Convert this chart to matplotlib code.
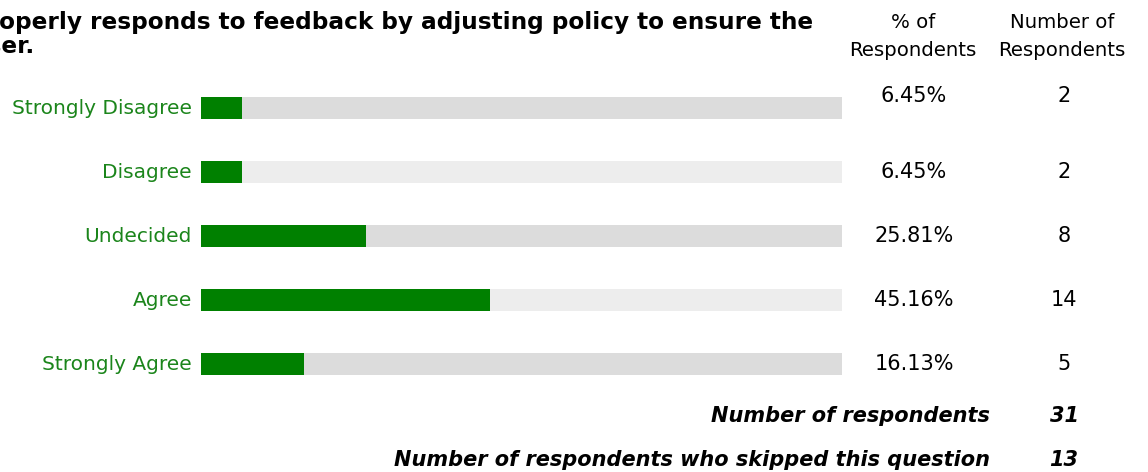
import matplotlib
matplotlib.use("Agg")
import matplotlib.pyplot as plt
import matplotlib.transforms as mtransforms

categories = ["Strongly Disagree", "Disagree", "Undecided", "Agree", "Strongly Agree"]
percents = [6.45, 6.45, 25.81, 45.16, 16.13]
counts = [2, 2, 8, 14, 5]
total_respondents = 31
skipped = 13
title_lines = ["properly responds to feedback by adjusting policy to ensure the", "user."]

W, H = 1148, 472
fig = plt.figure(figsize=(W / 100, H / 100), dpi=100)
plt.rcParams['font.family'] = ['DejaVu Sans']

# bar axes in pixel layout
left_px, right_px = 201, 842
top_px, bot_px = 76, 396
ax = fig.add_axes([left_px / W, 1 - bot_px / H, (right_px - left_px) / W, (bot_px - top_px) / H])
ax.set_xlim(0, 100)
ax.set_ylim(len(categories) - 0.5, -0.5)
ax.axis('off')

ypos = list(range(len(categories)))
track_colors = ['#dcdcdc' if i % 2 == 0 else '#ededed' for i in ypos]
bh = 22 / 64
ax.barh(ypos, [100] * len(categories), height=bh, color=track_colors, linewidth=0)
ax.barh(ypos, percents, height=bh, color='#008000', linewidth=0)

label_green = '#1b851b'
trans = mtransforms.blended_transform_factory(fig.transFigure, ax.transData)
for i, (cat, p, c) in enumerate(zip(categories, percents, counts)):
    ax.text(192 / W, i, cat, transform=trans, ha='right', va='center',
            fontsize=14.5, color=label_green)
    dy = -0.19 if i == 0 else 0.0
    ax.text(914 / W, i + dy, f"{p:.2f}%", transform=trans, ha='center', va='center',
            fontsize=15, color='black')
    ax.text(1064 / W, i + dy, str(c), transform=trans, ha='center', va='center',
            fontsize=15, color='black')

# title (clipped at left edge as in reference)
title_x = -29 / W
fig.text(title_x, 1 - 29 / H, title_lines[0], ha='left', va='baseline',
         fontsize=16.7, fontweight='bold', color='black')
fig.text(title_x, 1 - 53 / H, title_lines[1], ha='left', va='baseline',
         fontsize=16.7, fontweight='bold', color='black')

# headers
fig.text(913 / W, 1 - 23 / H, "% of", ha='center', va='center', fontsize=14.2)
fig.text(913 / W, 1 - 50 / H, "Respondents", ha='center', va='center', fontsize=14.2)
fig.text(1062 / W, 1 - 23 / H, "Number of", ha='center', va='center', fontsize=14.2)
fig.text(1062 / W, 1 - 50 / H, "Respondents", ha='center', va='center', fontsize=14.2)

# footer
fig.text(990 / W, 1 - 416 / H, "Number of respondents", ha='right', va='center',
         fontsize=15, fontweight='bold', style='italic')
fig.text(1064 / W, 1 - 416 / H, str(total_respondents), ha='center', va='center',
         fontsize=15, fontweight='bold', style='italic')
fig.text(990 / W, 1 - 460 / H, "Number of respondents who skipped this question", ha='right',
         va='center', fontsize=15, fontweight='bold', style='italic')
fig.text(1064 / W, 1 - 460 / H, str(skipped), ha='center', va='center',
         fontsize=15, fontweight='bold', style='italic')

fig.savefig("out.png", dpi=100, facecolor='white')
